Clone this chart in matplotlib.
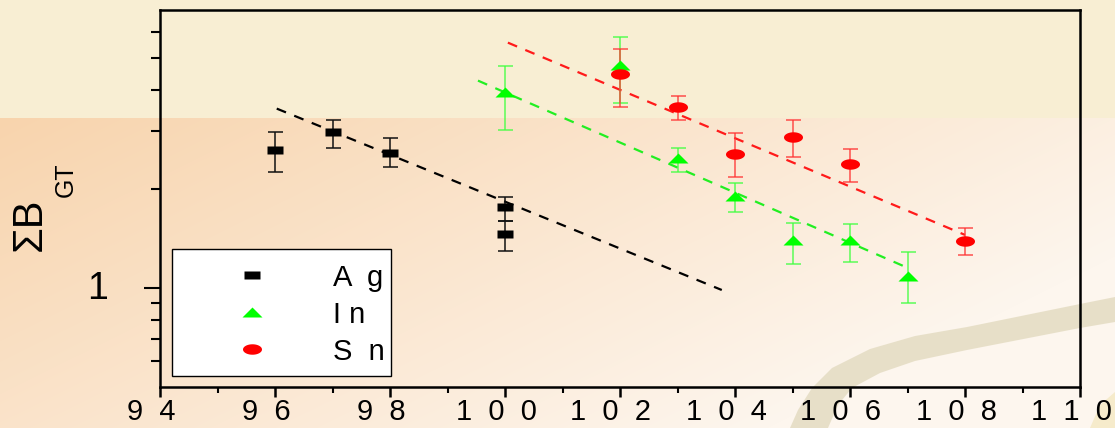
import numpy as np
import matplotlib
matplotlib.use('Agg')
import matplotlib.pyplot as plt
from matplotlib.path import Path
from matplotlib.patches import Polygon, Rectangle
from matplotlib.lines import Line2D
import matplotlib.transforms as mtransforms
from matplotlib.ticker import FixedLocator, NullFormatter, FixedFormatter

# ---------------- data ----------------
ag_x = [96, 97, 98, 100, 100]
ag_y = [2.62, 2.99, 2.58, 1.76, 1.46]
ag_err_hi = [0.35, 0.26, 0.27, 0.13, 0.14]
ag_err_lo = [0.36, 0.32, 0.24, 0.16, 0.16]

in_x = [100, 102, 103, 104, 105, 106, 107]
in_y = [3.93, 4.77, 2.48, 1.91, 1.40, 1.40, 1.09]
in_err_hi = [0.81, 1.03, 0.18, 0.17, 0.18, 0.17, 0.20]
in_err_lo = [0.90, 1.11, 0.22, 0.21, 0.22, 0.20, 0.19]

sn_x = [102, 103, 104, 105, 106, 108]
sn_y = [4.48, 3.54, 2.56, 2.87, 2.38, 1.39]
sn_err_hi = [0.86, 0.30, 0.39, 0.36, 0.26, 0.13]
sn_err_lo = [0.92, 0.31, 0.39, 0.36, 0.28, 0.13]

fit_ag_x = [96.03, 103.77]
fit_ag_y = [3.51, 0.986]
fit_in_x = [99.53, 106.96]
fit_in_y = [4.27, 1.16]
fit_sn_x = [100.05, 108.0]
fit_sn_y = [5.57, 1.45]

legend_labels = ["A  g", "I n", "S  n"]
x_ticks = [94, 96, 98, 100, 102, 104, 106, 108, 110]
x_tick_labels = ["  ".join(str(v)) for v in x_ticks]
y_major = [1]
y_major_labels = ["1"]
y_minor = [0.6, 0.7, 0.8, 0.9, 2, 3, 4, 5, 6]

# ---------------- figure ----------------
W, H = 1115, 428
DPI = 100
plt.rcParams['font.family'] = ['Liberation Sans', 'DejaVu Sans']
fig = plt.figure(figsize=(W / DPI, H / DPI), dpi=DPI)


def fp(x, y):
    return (x / W, 1 - y / H)


# background
bg = fig.add_axes([0, 0, 1, 1])
yy, xx = np.mgrid[0:H, 0:W]
top_c = np.array([248, 238, 211]) / 255.0
dark_c = np.array([248, 212, 173]) / 255.0
light_c = np.array([253, 246, 238]) / 255.0
t = np.clip(0.8 * xx / W + 0.45 * (yy - 118) / 310.0, 0, 1)[..., None]
img = dark_c * (1 - t) + light_c * t
img[yy < 118] = top_c
bg.imshow(img, extent=[0, W, H, 0], aspect='auto', interpolation='bilinear')
upper = [(790, 428), (798, 410), (812, 388), (832, 368), (870, 349), (915, 336),
         (967, 327), (1080, 304), (1115, 297)]
lower = [(1115, 322), (1080, 328), (967, 350), (915, 361), (880, 373), (852, 388),
         (838, 405), (828, 428)]
bg.add_patch(Polygon(upper + lower, closed=True, facecolor='#E4DCC2',
                     edgecolor='none', alpha=0.85))
bg.add_patch(Polygon([(1090, 428), (1100, 405), (1115, 392), (1115, 428)], closed=True,
                     facecolor='#F6EBCB', edgecolor='none'))
bg.set_xlim(0, W)
bg.set_ylim(H, 0)
bg.axis('off')

# main axes
L, R, T, B = 160, 1080, 10, 387
ax = fig.add_axes([L / W, 1 - B / H, (R - L) / W, (B - T) / H])
ax.set_facecolor('none')
ax.set_yscale('log')
ax.set_xlim(94, 110)
ax.set_ylim(0.5, 7.0)

# markers
rect_m = Path([(-1, -0.5), (1, -0.5), (1, 0.5), (-1, 0.5), (-1, -0.5)],
              [Path.MOVETO, Path.LINETO, Path.LINETO, Path.LINETO, Path.CLOSEPOLY])
tri_m = Path([(-1, -0.5), (1, -0.5), (0, 0.5), (-1, -0.5)],
             [Path.MOVETO, Path.LINETO, Path.LINETO, Path.CLOSEPOLY])
th = np.linspace(0, 2 * np.pi, 40)
ell_m = Path(np.column_stack([np.cos(th), 0.55 * np.sin(th)]))

# fits
dash = (0, (4.5, 4))
ax.plot(fit_ag_x, fit_ag_y, color='black', lw=1.6, linestyle=dash, zorder=2)
ax.plot(fit_in_x, fit_in_y, color='#22EE22', lw=1.6, linestyle=dash, zorder=2)
ax.plot(fit_sn_x, fit_sn_y, color='#FF1A1A', lw=1.6, linestyle=dash, zorder=2)

ekw = dict(linestyle='none', elinewidth=1.1, capsize=5.4, capthick=1.1)
ax.errorbar(ag_x, ag_y, yerr=[ag_err_lo, ag_err_hi], ecolor='#111111', **ekw, zorder=3)
ax.errorbar(in_x, in_y, yerr=[in_err_lo, in_err_hi], ecolor=(0.25, 1.0, 0.25, 0.85), **ekw, zorder=3)
ax.errorbar(sn_x, sn_y, yerr=[sn_err_lo, sn_err_hi], ecolor=(1.0, 0.2, 0.2, 0.85), **ekw, zorder=3)
ax.plot(ag_x, ag_y, linestyle='none', marker=rect_m, ms=11.5, color='black', mec='none', zorder=4)
ax.plot(in_x, in_y, linestyle='none', marker=tri_m, ms=14.4, color='#00FF00', mec='none', zorder=4)
ax.plot(sn_x, sn_y, linestyle='none', marker=ell_m, ms=13.7, color='#FF0000', mec='none', zorder=4)

# axes styling
for s in ax.spines.values():
    s.set_linewidth(1.8)
    s.set_color('black')
ax.xaxis.set_major_locator(FixedLocator(x_ticks))
ax.xaxis.set_major_formatter(FixedFormatter(x_tick_labels))
ax.xaxis.set_minor_locator(FixedLocator([95, 97, 99, 101, 103, 105, 107, 109]))
ax.yaxis.set_major_locator(FixedLocator(y_major))
ax.yaxis.set_major_formatter(FixedFormatter(y_major_labels))
ax.yaxis.set_minor_locator(FixedLocator(y_minor))
ax.yaxis.set_minor_formatter(NullFormatter())
ax.tick_params(axis='x', which='major', direction='out', length=7, width=1.8,
               labelsize=21, pad=1, top=False)
ax.tick_params(axis='x', which='minor', direction='out', length=4, width=1.5, top=False)
ax.tick_params(axis='y', which='major', direction='out', length=11.5, width=1.5,
               labelsize=27, pad=26, right=False)
ax.tick_params(axis='y', which='minor', direction='out', length=6.5, width=1.5, right=False)
off = mtransforms.ScaledTranslation(-9 / DPI, 0, fig.dpi_scale_trans)
for lab in ax.get_xticklabels():
    lab.set_transform(lab.get_transform() + off)
offy = mtransforms.ScaledTranslation(0, 3 / DPI, fig.dpi_scale_trans)
for lab in ax.get_yticklabels():
    lab.set_transform(lab.get_transform() + offy)

# y label
fig.text(*fp(30, 224), "ΣB", rotation=90, fontsize=30, ha='center', va='center')
fig.text(*fp(66, 180), "GT", rotation=90, fontsize=18, ha='center', va='center')

# legend (manual)
x0, y0 = fp(172, 376)
x1, y1 = fp(391, 249)
fig.add_artist(Rectangle((x0, y0), x1 - x0, y1 - y0, transform=fig.transFigure,
                         facecolor='white', edgecolor='black', lw=1.0, zorder=10))
rows_c = [275, 312, 349]
rows_b = [286, 323, 360]
mk = [(rect_m, 11.5, 'black'), (tri_m, 14.4, '#00FF00'), (ell_m, 13.7, '#FF0000')]
for (m, ms, c), yc, yb, lab in zip(mk, rows_c, rows_b, legend_labels):
    mx, my = fp(252, yc)
    fig.add_artist(Line2D([mx], [my], marker=m, ms=ms, color=c, mec='none',
                          linestyle='none', transform=fig.transFigure, zorder=11))
    tx, ty = fp(333, yb)
    fig.text(tx, ty, lab, fontsize=21, ha='left', va='baseline', zorder=11)

fig.savefig('out.png', dpi=DPI)
